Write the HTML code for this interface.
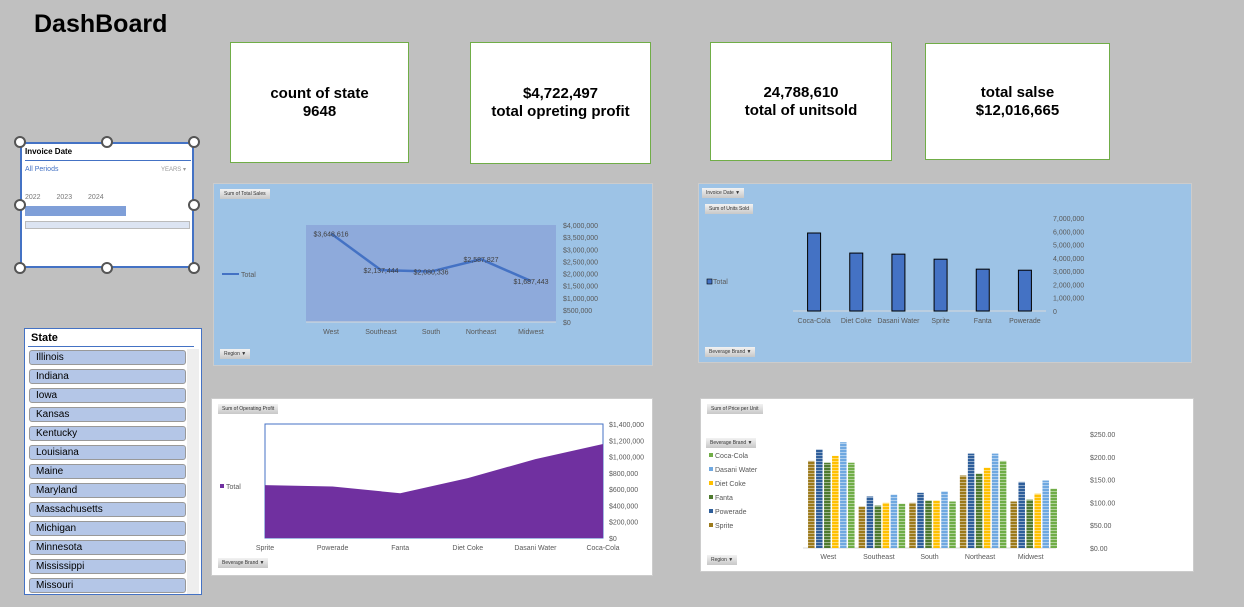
<!DOCTYPE html>
<html><head><meta charset="utf-8"><style>
body{margin:0;width:1244px;height:607px;background:#c0c0c0;position:relative;overflow:hidden;font-family:"Liberation Sans",sans-serif}
.card{position:absolute;background:#fff;border:1px solid #70ad47;box-sizing:border-box;display:flex;align-items:center;justify-content:center;text-align:center;font-weight:bold;font-size:15px;line-height:18px;color:#000}
.panel{position:absolute;box-sizing:border-box}
.btn{position:absolute;background:linear-gradient(#f2f2f2,#c8c8c8);font-size:5px;color:#333;padding:1px 4px;height:8px;line-height:8px}
svg text{font-family:"Liberation Sans",sans-serif}
.st{position:absolute;left:4px;width:157px;height:15px;background:#b4c6e7;border:1px solid #999;border-radius:3px;box-sizing:border-box;font-size:10px;line-height:14px;padding-left:6px}
.h{position:absolute;width:12px;height:12px;border:2px solid #555;border-radius:50%;background:#fff;box-sizing:border-box}
</style></head><body>
<div style="position:absolute;left:34px;top:10px;font-size:25px;font-weight:bold">DashBoard</div>
<div class="card" style="left:230px;top:42px;width:179px;height:121px">count of state<br>9648</div>
<div class="card" style="left:470px;top:42px;width:181px;height:122px">$4,722,497<br>total opreting profit</div>
<div class="card" style="left:710px;top:42px;width:182px;height:119px">24,788,610<br>total of unitsold</div>
<div class="card" style="left:925px;top:43px;width:185px;height:117px">total salse<br>$12,016,665</div>

<div style="position:absolute;left:20px;top:142px;width:174px;height:126px;background:#fff;border:2px solid #4472c4;box-sizing:border-box">
<div style="position:absolute;left:3px;top:3px;font-size:8px;font-weight:bold">Invoice Date</div>
<div style="position:absolute;left:3px;top:16px;width:166px;border-top:1px solid #4472c4"></div>
<div style="position:absolute;left:3px;top:22px;font-size:7px;color:#4472c4">All Periods</div>
<div style="position:absolute;right:6px;top:22px;font-size:6px;color:#999">YEARS ▾</div>
<div style="position:absolute;left:3px;top:50px;font-size:7px;color:#777;word-spacing:14px">2022 2023 2024</div>
<div style="position:absolute;left:3px;top:62px;width:101px;height:10px;background:#7f9fd8"></div>
<div style="position:absolute;left:3px;top:77px;width:163px;height:6px;background:#dce4f2;border:1px solid #bbb"></div>
</div>
<div class="h" style="left:14px;top:136px"></div><div class="h" style="left:101px;top:136px"></div><div class="h" style="left:188px;top:136px"></div>
<div class="h" style="left:14px;top:199px"></div><div class="h" style="left:188px;top:199px"></div>
<div class="h" style="left:14px;top:262px"></div><div class="h" style="left:101px;top:262px"></div><div class="h" style="left:188px;top:262px"></div>

<div style="position:absolute;left:24px;top:328px;width:178px;height:267px;background:#fff;border:1px solid #4472c4;box-sizing:border-box;overflow:hidden">
<div style="position:absolute;left:6px;top:3px;font-size:11px;font-weight:bold">State</div>
<div style="position:absolute;left:3px;top:17px;width:166px;border-top:1px solid #4472c4"></div>
<div style="position:absolute;left:162px;top:20px;width:12px;height:245px;background:#eee"></div>
<div id="states"></div>
</div>

<div class="panel" style="left:213px;top:183px;width:440px;height:183px;background:#9dc3e6;border:1px solid #ccc"><svg id="c1" width="440" height="183"></svg>
<div class="btn" style="left:6px;top:5px">Sum of Total Sales</div>
<div class="btn" style="left:6px;top:165px">Region ▼</div></div>

<div class="panel" style="left:698px;top:183px;width:494px;height:180px;background:#9dc3e6;border:1px solid #ccc"><svg id="c2" width="494" height="180"></svg>
<div class="btn" style="left:3px;top:4px">Invoice Date ▼</div>
<div class="btn" style="left:6px;top:20px">Sum of Units Sold</div>
<div class="btn" style="left:6px;top:163px">Beverage Brand ▼</div></div>

<div class="panel" style="left:211px;top:398px;width:442px;height:178px;background:#fff;border:1px solid #ccc"><svg id="c3" width="442" height="178"></svg>
<div class="btn" style="left:6px;top:5px">Sum of Operating Profit</div>
<div class="btn" style="left:6px;top:159px">Beverage Brand ▼</div></div>

<div class="panel" style="left:700px;top:398px;width:494px;height:174px;background:#fff;border:1px solid #ccc"><svg id="c4" width="494" height="174"></svg>
<div class="btn" style="left:6px;top:5px">Sum of Price per Unit</div>
<div class="btn" style="left:5px;top:39px">Beverage Brand ▼</div>
<div class="btn" style="left:6px;top:156px">Region ▼</div></div>

<script>
const states=["Illinois","Indiana","Iowa","Kansas","Kentucky","Louisiana","Maine","Maryland","Massachusetts","Michigan","Minnesota","Mississippi","Missouri"];
const regions=["West","Southeast","South","Northeast","Midwest"];
const salesVals=[3648616,2137444,2080336,2587827,1687443];
const salesTicks=[0,500000,1000000,1500000,2000000,2500000,3000000,3500000,4000000];
const brandsUnits=["Coca-Cola","Diet Coke","Dasani Water","Sprite","Fanta","Powerade"];
const unitsVals=[5870000,4360000,4280000,3900000,3150000,3070000];
const unitsTicks=[0,1000000,2000000,3000000,4000000,5000000,6000000,7000000];
const brandsProfit=["Sprite","Powerade","Fanta","Diet Coke","Dasani Water","Coca-Cola"];
const profitVals=[649000,632000,550000,735000,969000,1154000];
const profitTicks=[0,200000,400000,600000,800000,1000000,1200000,1400000];
const priceBrands=["Sprite","Powerade","Fanta","Diet Coke","Dasani Water","Coca-Cola"];
const priceSprite=[191,91,99,159,102];
const pricePowerade=[216,113,121,207,145];
const priceFanta=[187,93,104,163,106];
const priceDiet=[202,99,104,176,119];
const priceDasani=[232,117,124,207,148];
const priceCoca=[187,97,102,191,130];
const priceTicks=[0,50,100,150,200,250];

const NS="http://www.w3.org/2000/svg";
function mk(svg,tag,at,txt){const e=document.createElementNS(NS,tag);for(const k in at)e.setAttribute(k,at[k]);if(txt!==undefined)e.textContent=txt;svg.appendChild(e);return e;}
const fmt=v=>v.toLocaleString('en-US');

const sd=document.getElementById('states');
states.forEach((s,i)=>{const d=document.createElement('div');d.className='st';d.style.top=(21+i*19)+'px';d.textContent=s;


sd.appendChild(d);});

// chart 1 line
(function(){const s=document.getElementById('c1');const x0=92,x1=342,yB=138,yT=41,max=4000000;
const y=v=>yB-(v/max)*(yB-yT);const bw=(x1-x0)/regions.length;const x=i=>x0+bw*(i+0.5);
mk(s,'rect',{x:x0,y:yT,width:x1-x0,height:yB-yT,fill:'#8eaadb'});
mk(s,'line',{x1:x0,x2:x1,y1:yB,y2:yB,stroke:'#d9d9d9'});
salesTicks.forEach(t=>mk(s,'text',{x:349,y:y(t)+3,'font-size':7,fill:'#595959'},'$'+fmt(t)));
regions.forEach((r,i)=>mk(s,'text',{x:x(i),y:150,'font-size':7,fill:'#595959','text-anchor':'middle'},r));
const p=mk(s,'polyline',{points:salesVals.map((v,i)=>x(i)+','+y(v)).join(' '),fill:'none',stroke:'#4472c4','stroke-width':2.5});

salesVals.forEach((v,i)=>mk(s,'text',{x:x(i),y:y(v)+3,'font-size':7,fill:'#404040','text-anchor':'middle'},'$'+fmt(v)));
mk(s,'line',{x1:8,x2:25,y1:90,y2:90,stroke:'#4472c4','stroke-width':2});
mk(s,'text',{x:27,y:93,'font-size':7,fill:'#595959'},'Total');})();

// chart 2 bars
(function(){const s=document.getElementById('c2');const x0=94,x1=347,yB=127,yT=34,max=7000000;
const y=v=>yB-(v/max)*(yB-yT);const bw=(x1-x0)/brandsUnits.length;
mk(s,'line',{x1:x0,x2:x1,y1:yB,y2:yB,stroke:'#d9d9d9'});
unitsTicks.forEach(t=>mk(s,'text',{x:354,y:y(t)+3,'font-size':7,fill:'#595959'},fmt(t)));
brandsUnits.forEach((b,i)=>{const cx=x0+bw*(i+0.5);
const r=mk(s,'rect',{x:cx-6.5,y:y(unitsVals[i]),width:13,height:yB-y(unitsVals[i]),fill:'#4472c4',stroke:'#000','stroke-width':1});


mk(s,'text',{x:cx,y:139,'font-size':7,fill:'#595959','text-anchor':'middle'},b);});
mk(s,'rect',{x:8,y:95,width:5,height:5,fill:'#4472c4',stroke:'#000','stroke-width':.6});
mk(s,'text',{x:14,y:100,'font-size':7,fill:'#595959'},'Total');})();

// chart 3 area
(function(){const s=document.getElementById('c3');const x0=53,x1=391,yB=139,yT=25,max=1400000;
const y=v=>yB-(v/max)*(yB-yT);const x=i=>x0+(x1-x0)*i/(brandsProfit.length-1);
mk(s,'rect',{x:x0,y:yT,width:x1-x0,height:yB-yT,fill:'none',stroke:'#4472c4'});
const pts=profitVals.map((v,i)=>x(i)+','+y(v)).join(' ');
const a=mk(s,'polygon',{points:x0+','+yB+' '+pts+' '+x1+','+yB,fill:'#7030a0'});

profitTicks.forEach(t=>mk(s,'text',{x:397,y:y(t)+3,'font-size':7,fill:'#595959'},'$'+fmt(t)));
brandsProfit.forEach((b,i)=>mk(s,'text',{x:x(i),y:151,'font-size':7,fill:'#595959','text-anchor':'middle'},b));
mk(s,'rect',{x:8,y:85,width:4,height:4,fill:'#7030a0'});
mk(s,'text',{x:14,y:90,'font-size':7,fill:'#595959'},'Total');})();

// chart 4 grouped
(function(){const s=document.getElementById('c4');const x0=102,x1=355,yB=149,yT=35,max=250;
const series=[priceSprite,pricePowerade,priceFanta,priceDiet,priceDasani,priceCoca];
const cols=['#9c7a1b','#2e5e9a','#4e7a2e','#ffc000','#6fa8e0','#70ad47'];
const y=v=>yB-(v/max)*(yB-yT);const gw=(x1-x0)/regions.length;
const defs=mk(s,'defs',{});
cols.forEach((c,k)=>{const p=mk(defs,'pattern',{id:'p'+k,width:4,height:3,patternUnits:'userSpaceOnUse'});mk(p,'rect',{width:4,height:3,fill:c});mk(p,'rect',{y:2,width:4,height:1,fill:'#fff','fill-opacity':.45});});
mk(s,'line',{x1:x0,x2:x1,y1:yB,y2:yB,stroke:'#d9d9d9'});
priceTicks.forEach(t=>mk(s,'text',{x:389,y:y(t)+3,'font-size':7,fill:'#595959'},'$'+t.toFixed(2)));
regions.forEach((r,i)=>{const gx=x0+gw*i+gw*0.1;
series.forEach((ser,k)=>{const b=mk(s,'rect',{x:gx+k*8,y:y(ser[i]),width:6.5,height:yB-y(ser[i]),fill:'url(#p'+k+')'});

});
mk(s,'text',{x:x0+gw*(i+0.5),y:160,'font-size':7,fill:'#595959','text-anchor':'middle'},r);});
const leg=["Coca-Cola","Dasani Water","Diet Coke","Fanta","Powerade","Sprite"];const lc=[5,4,3,2,1,0];
leg.forEach((l,i)=>{mk(s,'rect',{x:8,y:54+i*14,width:4,height:4,fill:cols[lc[i]]});mk(s,'text',{x:14,y:59+i*14,'font-size':7,fill:'#595959'},l);});})();
</script>
</body></html>
